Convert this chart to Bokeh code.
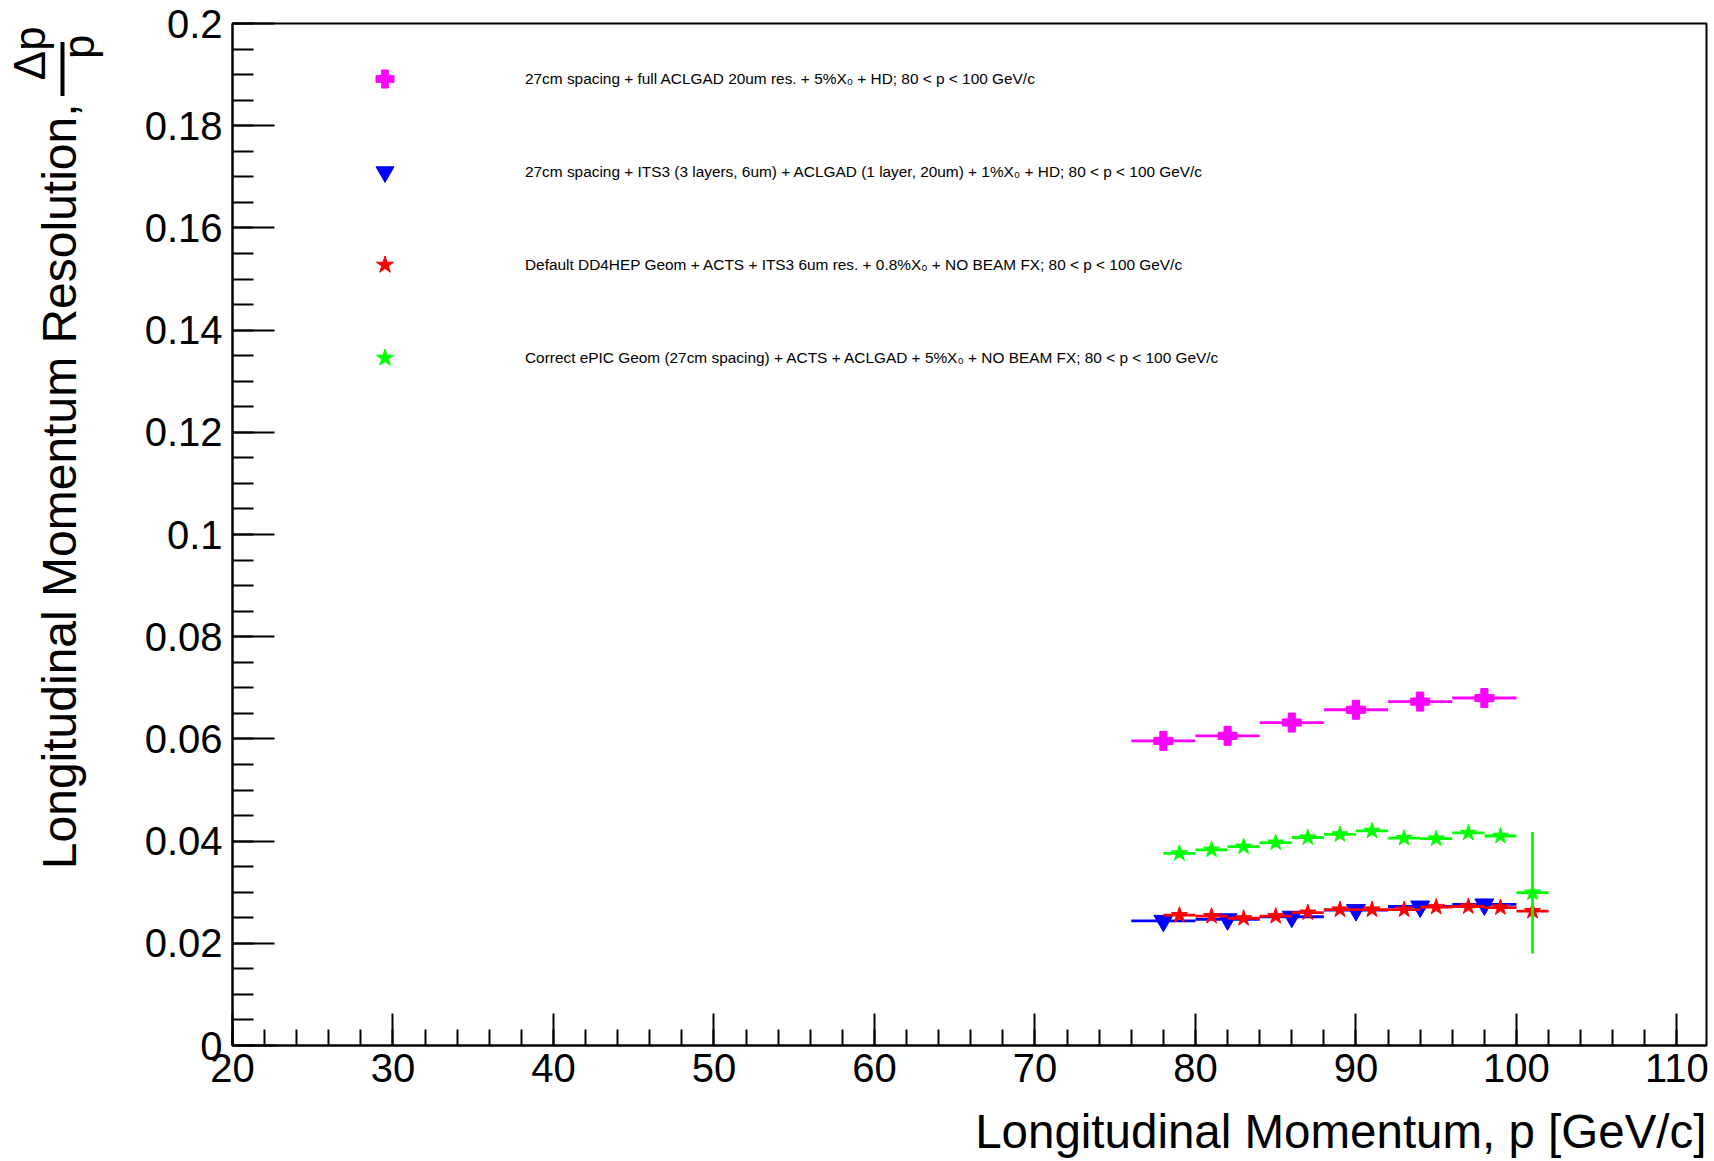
import numpy as np
from bokeh.plotting import figure
from bokeh.layouts import row, column
from bokeh.models import Range1d, FixedTicker, Legend, LegendItem, ColumnDataSource
from bokeh.core.properties import value
from bokeh.embed import file_html
from bokeh.resources import INLINE

# ---------------- data ----------------
x_ticks = [20, 30, 40, 50, 60, 70, 80, 90, 100, 110]
x_tick_labels = ["20", "30", "40", "50", "60", "70", "80", "90", "100", "110"]
x_minor_ticks = list(range(20, 112, 2))
y_ticks = [0.0, 0.02, 0.04, 0.06, 0.08, 0.1, 0.12, 0.14, 0.16, 0.18, 0.2]
y_tick_labels = ["0", "0.02", "0.04", "0.06", "0.08", "0.1", "0.12", "0.14", "0.16", "0.18", "0.2"]
y_minor_ticks = [round(0.005 * i, 3) for i in range(41)]

mag_x = [78, 82, 86, 90, 94, 98]
mag_xerr = [2, 2, 2, 2, 2, 2]
mag_y = [0.0596, 0.0606, 0.0632, 0.0657, 0.0673, 0.0680]
mag_yerr = [0.0004, 0.0004, 0.0004, 0.0004, 0.0004, 0.0004]

blue_x = [78, 82, 86, 90, 94, 98]
blue_xerr = [2, 2, 2, 2, 2, 2]
blue_y = [0.0244, 0.0247, 0.0252, 0.0265, 0.0272, 0.0276]
blue_yerr = [0.0002, 0.0002, 0.0002, 0.0002, 0.0002, 0.0002]

red_x = [79, 81, 83, 85, 87, 89, 91, 93, 95, 97, 99, 101]
red_xerr = [1] * 12
red_y = [0.0255, 0.0253, 0.0249, 0.0253, 0.0260, 0.0266, 0.0266, 0.0266, 0.0271, 0.0272, 0.0270, 0.0263]
red_yerr = [0.0002] * 12

green_x = [79, 81, 83, 85, 87, 89, 91, 93, 95, 97, 99, 101]
green_xerr = [1] * 12
green_y = [0.0376, 0.0383, 0.0389, 0.0397, 0.0407, 0.0413, 0.0420, 0.0406, 0.0405, 0.0416, 0.0410, 0.0299]
green_yerr = [0.0003, 0.0003, 0.0003, 0.0003, 0.0003, 0.0003, 0.0003, 0.0003, 0.0003, 0.0003, 0.0003, 0.0119]

labels = [
    "27cm spacing + full ACLGAD 20um res. + 5%X\u2080 + HD; 80 < p < 100 GeV/c",
    "27cm spacing + ITS3 (3 layers, 6um) + ACLGAD (1 layer, 20um) + 1%X\u2080 + HD; 80 < p < 100 GeV/c",
    "Default DD4HEP Geom + ACTS + ITS3 6um res. + 0.8%X\u2080 + NO BEAM FX; 80 < p < 100 GeV/c",
    "Correct ePIC Geom (27cm spacing) + ACTS + ACLGAD + 5%X\u2080 + NO BEAM FX; 80 < p < 100 GeV/c",
]
x_title = "Longitudinal Momentum, p [GeV/c]"
y_title = "Longitudinal Momentum Resolution,"
y_title_num = "\u0394p"
y_title_den = "p"

FONT = "Liberation Sans"

TOTAL_W, TOTAL_H = 1710, 1158
LEFT_W = 110
MAIN_H = 1100

# ---------------- main figure ----------------
p = figure(width=TOTAL_W - LEFT_W, height=MAIN_H, x_range=Range1d(20, 111.84), y_range=Range1d(0, 0.2),
           output_backend="svg", toolbar_location=None, title=None,
           min_border_left=122, min_border_right=4, min_border_top=23, min_border_bottom=55)
p.grid.visible = False
p.outline_line_color = "black"
p.outline_line_width = 2
p.background_fill_color = "white"
p.border_fill_color = "white"

xa = p.xaxis[0]
xa.ticker = FixedTicker(ticks=x_ticks, minor_ticks=x_minor_ticks)
xa.major_label_overrides = dict(zip(x_ticks, x_tick_labels))
xa.major_tick_in = 32
xa.major_tick_out = 0
xa.minor_tick_in = 16
xa.minor_tick_out = 0
xa.axis_line_width = 2
xa.major_tick_line_width = 2
xa.minor_tick_line_width = 2
xa.major_label_text_font = FONT
xa.major_label_text_font_size = "40px"
xa.major_label_text_color = "black"
xa.major_label_standoff = 8

ya = p.yaxis[0]
ya.ticker = FixedTicker(ticks=y_ticks, minor_ticks=y_minor_ticks)
ya.major_label_overrides = dict(zip(y_ticks, y_tick_labels))
ya.major_tick_in = 42
ya.major_tick_out = 0
ya.minor_tick_in = 21
ya.minor_tick_out = 0
ya.axis_line_width = 2
ya.major_tick_line_width = 2
ya.minor_tick_line_width = 2
ya.major_label_text_font = FONT
ya.major_label_text_font_size = "40px"
ya.major_label_text_color = "black"
ya.major_label_standoff = 10

series = [
    (mag_x, mag_xerr, mag_y, mag_yerr, "#ff00ff", "plus", 19),
    (blue_x, blue_xerr, blue_y, blue_yerr, "#0000ff", "inverted_triangle", 19),
    (red_x, red_xerr, red_y, red_yerr, "#ff0000", "star", 17),
    (green_x, green_xerr, green_y, green_yerr, "#00ff00", "star", 17),
]
renderers = []
for xs, xe, ys, ye, col, mk, sz in series:
    xs = np.array(xs, float); xe = np.array(xe, float)
    ys = np.array(ys, float); ye = np.array(ye, float)
    src = ColumnDataSource(dict(x=xs, y=ys, x0=xs - xe, x1=xs + xe, y0=ys - ye, y1=ys + ye))
    p.segment(x0="x0", x1="x1", y0="y", y1="y", source=src, line_color=col, line_width=2.8)
    p.segment(x0="x", x1="x", y0="y0", y1="y1", source=src, line_color=col, line_width=2.8)
    r = p.scatter(x="x", y="y", source=src, marker=mk, size=sz, fill_color=col, line_color=col)
    renderers.append(r)

legend = Legend(items=[LegendItem(label=lab, renderers=[r]) for lab, r in zip(labels, renderers)],
                location=(130, 665), orientation="vertical",
                glyph_width=45, glyph_height=45, label_height=45, label_standoff=118,
                spacing=48, padding=0, margin=0,
                border_line_color=None, background_fill_alpha=0,
                label_text_font=FONT, label_text_font_size="15.4px", label_text_color="black")
p.add_layout(legend)

# ---------------- helper for title strips ----------------
def blank(w, h, xr, yr):
    f = figure(width=w, height=h, x_range=Range1d(*xr), y_range=Range1d(*yr), title=None,
               output_backend="svg", toolbar_location=None, x_axis_type=None, y_axis_type=None,
               min_border_left=0, min_border_right=0, min_border_top=0, min_border_bottom=0)
    f.grid.visible = False
    f.outline_line_color = None
    f.background_fill_color = "white"
    f.border_fill_color = "white"
    return f

# ---------------- left strip: y-axis title ----------------
left = blank(LEFT_W, MAIN_H, (0, LEFT_W), (0, MAIN_H))
# positions in page pixels from the top (y = MAIN_H - top)
left.text(x=[59], y=[MAIN_H - 86], text=[y_title], angle=np.pi / 2, text_align="right",
          text_baseline="middle", text_font=value(FONT), text_font_size="48px", text_color="black")
left.text(x=[29], y=[MAIN_H - 3], text=[y_title_num], angle=np.pi / 2, text_align="right",
          text_baseline="middle", text_font=value(FONT), text_font_size="44px", text_color="black")
left.text(x=[78], y=[MAIN_H - 12], text=[y_title_den], angle=np.pi / 2, text_align="right",
          text_baseline="middle", text_font=value(FONT), text_font_size="44px", text_color="black")
left.segment(x0=[62], x1=[62], y0=[MAIN_H - 20], y1=[MAIN_H - 78], line_color="black", line_width=4)

# ---------------- bottom strip: x-axis title ----------------
BOT_H = TOTAL_H - MAIN_H
bottom = blank(TOTAL_W, BOT_H, (0, TOTAL_W), (0, BOT_H))
bottom.text(x=[1706], y=[TOTAL_H - 1130.5], text=[x_title], text_align="right",
            text_baseline="middle", text_font=value(FONT), text_font_size="47.5px", text_color="black")

layout = column(row(left, p, spacing=0), bottom, spacing=0)
open("out.html", "w").write(file_html(layout, INLINE))
